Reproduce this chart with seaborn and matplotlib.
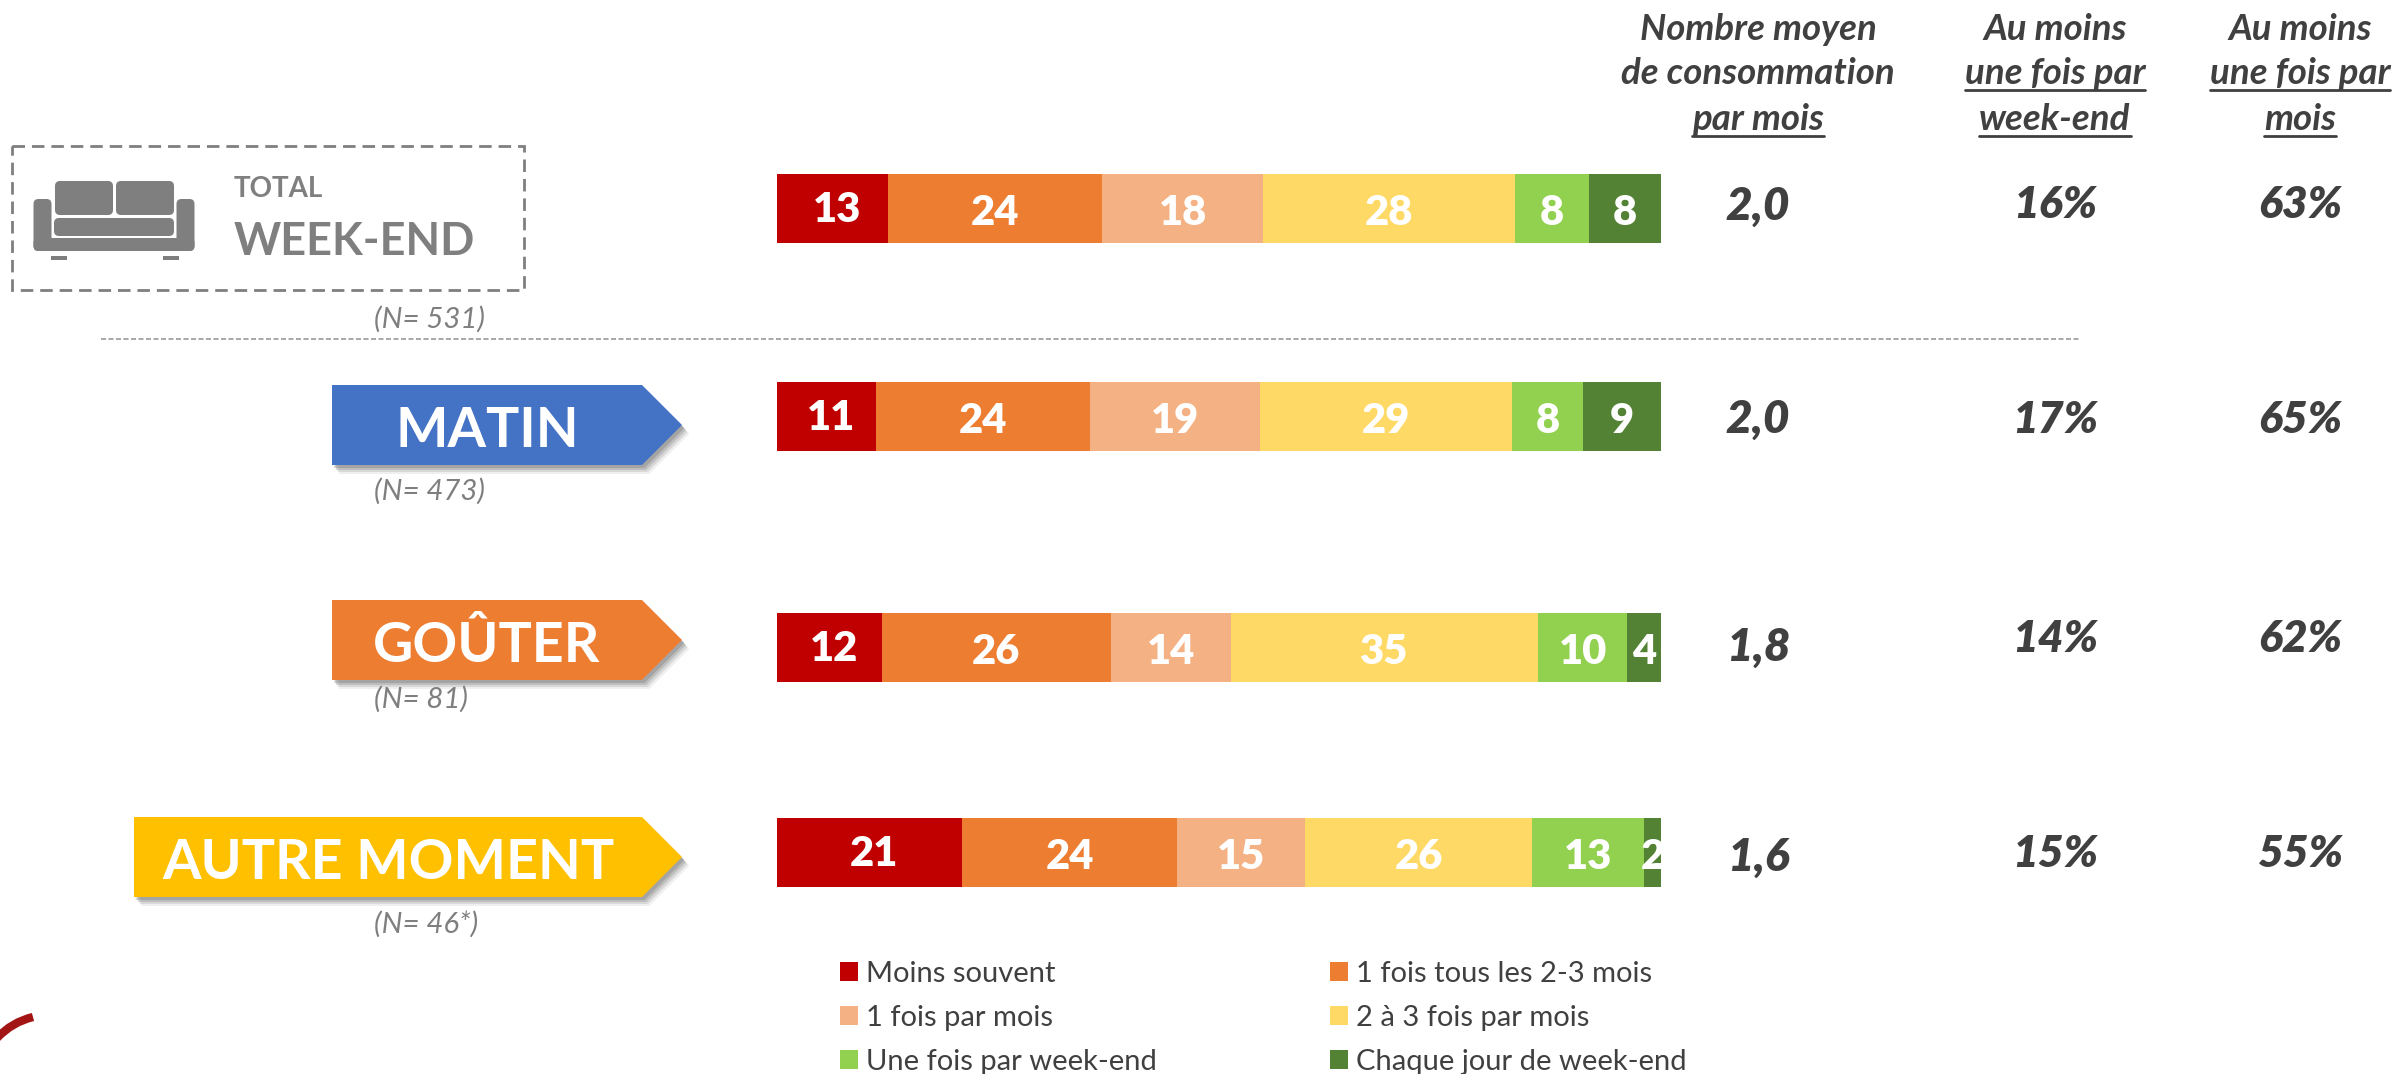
import pandas as pd
import matplotlib
matplotlib.use("Agg")
import matplotlib.pyplot as plt
import seaborn as sns
from matplotlib.patches import Polygon, Rectangle, FancyBboxPatch, PathPatch, Patch
from matplotlib.path import Path

W, H = 2397, 1074

rows = ["TOTAL WEEK-END", "MATIN", "GOÛTER", "AUTRE MOMENT"]
segments = ["Moins souvent", "1 fois tous les 2-3 mois", "1 fois par mois",
            "2 à 3 fois par mois", "Une fois par week-end", "Chaque jour de week-end"]
colors = ["#c00000", "#ed7d31", "#f4b183", "#ffd966", "#92d050", "#548235"]

# bar lengths measured on the picture, labels as printed
moins_souvent = [12.6, 11.2, 11.9, 21.0]
tous_2_3_mois = [24.2, 24.2, 25.9, 24.3]
une_fois_mois = [18.3, 19.3, 13.6, 14.5]
deux_trois_mois = [28.5, 28.4, 34.7, 25.6]
une_fois_we = [8.3, 8.1, 10.1, 12.7]
chaque_we = [8.2, 8.8, 3.8, 1.9]
labels = [[13, 24, 18, 28, 8, 8], [11, 24, 19, 29, 8, 9],
          [12, 26, 14, 35, 10, 4], [21, 24, 15, 26, 13, 2]]

n_labels = ["(N= 531)", "(N= 473)", "(N= 81)", "(N= 46*)"]
moyenne = ["2,0", "2,0", "1,8", "1,6"]
pct_week_end = ["16%", "17%", "14%", "15%"]
pct_mois = ["63%", "65%", "62%", "55%"]

df = pd.DataFrame({"row": rows, segments[0]: moins_souvent, segments[1]: tous_2_3_mois,
                   segments[2]: une_fois_mois, segments[3]: deux_trois_mois,
                   segments[4]: une_fois_we, segments[5]: chaque_we})

sns.set_theme(style="white")
plt.rcParams["font.family"] = ["Lato", "DejaVu Sans"]

fig = plt.figure(figsize=(W / 100, H / 100), dpi=100)

# layout in pixels of the picture
bar_tops = [174, 382, 613, 818]
bar_h = 69
bar_x0, bar_x1 = 776.5, 1661

for i, row in enumerate(rows):
    ax = fig.add_axes([bar_x0 / W, 1 - (bar_tops[i] + bar_h) / H, (bar_x1 - bar_x0) / W, bar_h / H])
    sub = df[df["row"] == row]
    left = 0
    for j, seg in enumerate(segments):
        val = sub[seg].iloc[0]
        sns.barplot(data=sub, x=seg, y="row", orient="h", color=colors[j], saturation=1,
                    width=1, left=left, linewidth=0, ax=ax)
        dx, dy = (3.6, -10) if j == 0 else (0, -12)
        ax.annotate(str(labels[i][j]), (left + val / 2, 0), xytext=(dx, dy),
                    textcoords="offset points", ha="center", va="baseline",
                    color="white", fontweight="heavy", fontsize=30)
        left += val
    ax.set_xlim(0, left)
    ax.set_ylim(0.5, -0.5)
    ax.set_axis_off()

# overlay for everything around the bars, in pixel coordinates
ov = fig.add_axes([0, 0, 1, 1])
ov.set_xlim(0, W)
ov.set_ylim(H, 0)
ov.set_axis_off()
ov.patch.set_alpha(0)

dark = "#404040"
gray = "#7f7f7f"

# right hand columns
col_x = [1758, 2055, 2300]
avg_base = [220, 433, 661, 871]
pct_base = [218, 433, 652, 867]
for i in range(4):
    ov.text(col_x[0], avg_base[i], moyenne[i], ha="center", va="baseline", color=dark,
            fontweight="heavy", fontstyle="italic", fontsize=33)
    ov.text(col_x[1], pct_base[i], pct_week_end[i], ha="center", va="baseline", color=dark,
            fontweight="heavy", fontstyle="italic", fontsize=32)
    ov.text(col_x[2], pct_base[i], pct_mois[i], ha="center", va="baseline", color=dark,
            fontweight="heavy", fontstyle="italic", fontsize=32)

head_base = [40, 84, 130]
headers = [
    [("Nombre moyen", False), ("de consommation", False), ("par mois", True)],
    [("Au moins", False), ("une fois par", True), ("week-end", True)],
    [("Au moins", False), ("une fois par", True), ("mois", True)],
]
renderer = fig.canvas.get_renderer()
for c, lines in enumerate(headers):
    for k, (txt, under) in enumerate(lines):
        t = ov.text(col_x[c], head_base[k], txt, ha="center", va="baseline", color=dark,
                    fontweight="bold", fontstyle="italic", fontsize=26.4)
        if under:
            bb = t.get_window_extent(renderer)
            ov.plot([bb.x0, bb.x1], [head_base[k] + 6] * 2, color=dark, lw=2)

# total box with the sofa
ov.add_patch(Rectangle((12, 146), 512, 144, fill=False, ec=gray, lw=2, ls=(0, (4.5, 2.5))))
for x, y, w, h in [(55, 181, 58, 34), (116, 181, 58, 34), (54, 218, 120, 18),
                   (33.5, 199, 18, 52), (176.5, 199, 18, 52), (33.5, 238, 161, 13)]:
    ov.add_patch(FancyBboxPatch((x + 5, y + 5), w - 10, h - 10, boxstyle="round,pad=5",
                                fc=gray, ec="none"))
ov.add_patch(Rectangle((50.5, 256), 16.5, 4, fc=gray, ec="none"))
ov.add_patch(Rectangle((162.5, 256), 16.5, 4, fc=gray, ec="none"))
ov.text(234, 197, "TOTAL", color=gray, fontweight="bold", fontsize=20, va="baseline")
ov.text(234, 255, "WEEK-END", color=gray, fontweight="bold", fontsize=32.4, va="baseline")

ov.plot([101, 2079], [338.5, 338.5], color="#999999", lw=1.2, ls=(0, (3, 1.5)))

# arrow labels
arrows = [("MATIN", 332, 385, "#4472c4", 447, 487),
          ("GOÛTER", 332, 600, "#ed7d31", 662, 487),
          ("AUTRE MOMENT", 134, 817, "#ffc000", 879, 388)]
for name, x0, top, col, base, cx in arrows:
    pts = [(x0, top), (642, top), (682, top + 40), (642, top + 80), (x0, top + 80)]
    for off, alpha in [(9, 0.12), (7, 0.2), (5, 0.3), (3, 0.4)]:
        ov.add_patch(Polygon([(a + off * 0.8, b + off) for a, b in pts], fc="#7f7f7f", ec="none", alpha=alpha))
    ov.add_patch(Polygon(pts, fc=col, ec="none"))
    ov.text(cx, base, name, color="white", fontweight="bold", fontsize=40, ha="center", va="baseline")

n_base = [328, 500, 708, 933]
for i in range(4):
    ov.text(374, n_base[i], n_labels[i], color=gray, fontstyle="italic", fontsize=21.2, va="baseline")

# bit of a logo cut by the bottom left corner
ov.add_patch(PathPatch(Path([(-3, 1038), (12, 1022), (33, 1017)],
                            [Path.MOVETO, Path.CURVE3, Path.CURVE3]),
                       fc="none", ec="#a31515", lw=6))

# legend reads row by row, matplotlib fills by column
order = [0, 2, 4, 1, 3, 5]
handles = [Patch(fc=colors[j], ec="none", label=segments[j]) for j in order]
fig.legend(handles=handles, ncol=2, loc="upper left", bbox_to_anchor=(840 / W, 1 - 961 / H),
           frameon=False, fontsize=21, labelcolor=dark, handlelength=0.62, handleheight=0.62,
           handletextpad=0.26, columnspacing=5.95, labelspacing=0.61, borderpad=0, borderaxespad=0)

fig.savefig("out.png", dpi=100)
